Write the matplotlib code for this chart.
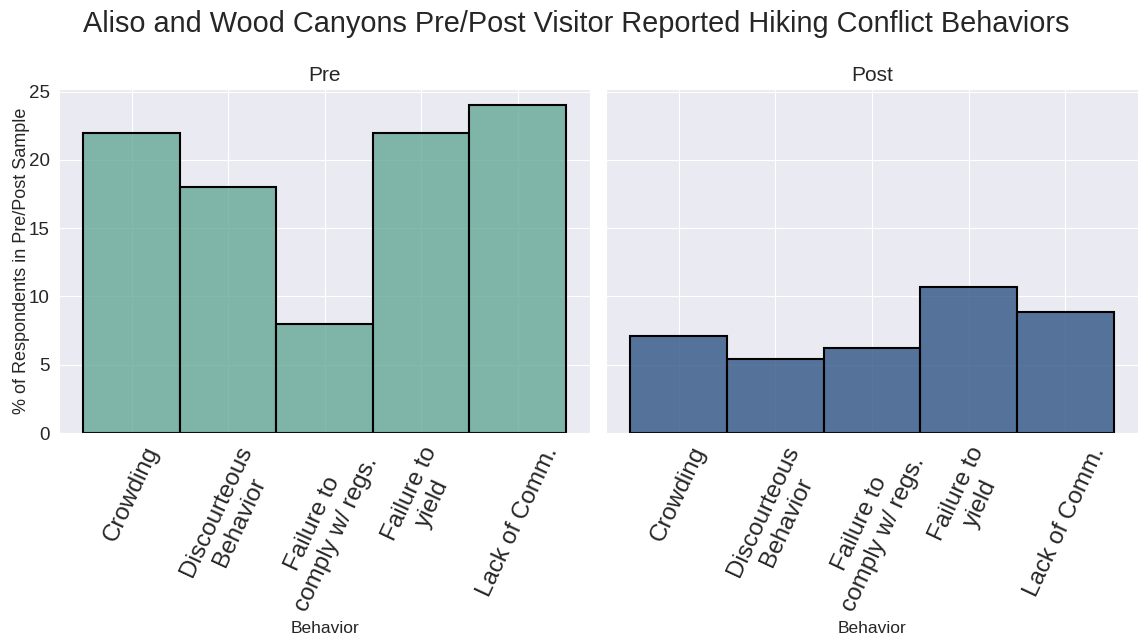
import matplotlib
matplotlib.use('Agg')
import matplotlib.pyplot as plt
import seaborn as sns
from matplotlib.colors import to_rgba

sns.set_style('darkgrid')
plt.rcParams['font.family'] = ['Liberation Sans', 'DejaVu Sans']

behaviors = ['Crowding', 'Discourteous\nBehavior', 'Failure to\ncomply w/ regs.',
             'Failure to\nyield', 'Lack of Comm.']
pre_pct = [22, 18, 8, 22, 24]
post_pct = [7.1, 5.4, 6.2, 10.7, 8.9]
panels = ['Pre', 'Post']
colors = ['#5ba38f', '#224a7d']

fig = plt.figure(figsize=(11.4, 6.35), dpi=100)
ax1 = fig.add_axes([0.052, 0.318, 0.4655, 0.542])
ax2 = fig.add_axes([0.5316, 0.318, 0.4664, 0.542], sharey=ax1)

for ax, vals, title, c in zip([ax1, ax2], [pre_pct, post_pct], panels, colors):
    x = range(len(behaviors))
    ax.bar(x, vals, width=1.0, facecolor=to_rgba(c, 0.75),
           edgecolor='black', linewidth=1.5, zorder=2)
    ax.set_xticks(list(x))
    ax.set_xticklabels(behaviors, rotation=65, fontsize=17.5, color='#262626')
    ax.set_xlim(-0.75, 4.75)
    ax.set_title(title, fontsize=15, color='#262626')
    ax.set_xlabel('Behavior', fontsize=12.5, color='#262626')
    ax.tick_params(axis='y', labelsize=13.5, colors='#262626')

ax1.set_ylim(0, 25.2)
ax1.set_yticks([0, 5, 10, 15, 20, 25])
ax1.set_ylabel('% of Respondents in Pre/Post Sample', fontsize=13, color='#262626')
ax1.yaxis.set_label_coords(-0.056, 0.5)
ax2.tick_params(axis='y', labelleft=False)

fig.suptitle('Aliso and Wood Canyons Pre/Post Visitor Reported Hiking Conflict Behaviors',
             fontsize=20.8, color='#262626', x=0.505, y=0.985)

fig.savefig('out.png', dpi=100)
